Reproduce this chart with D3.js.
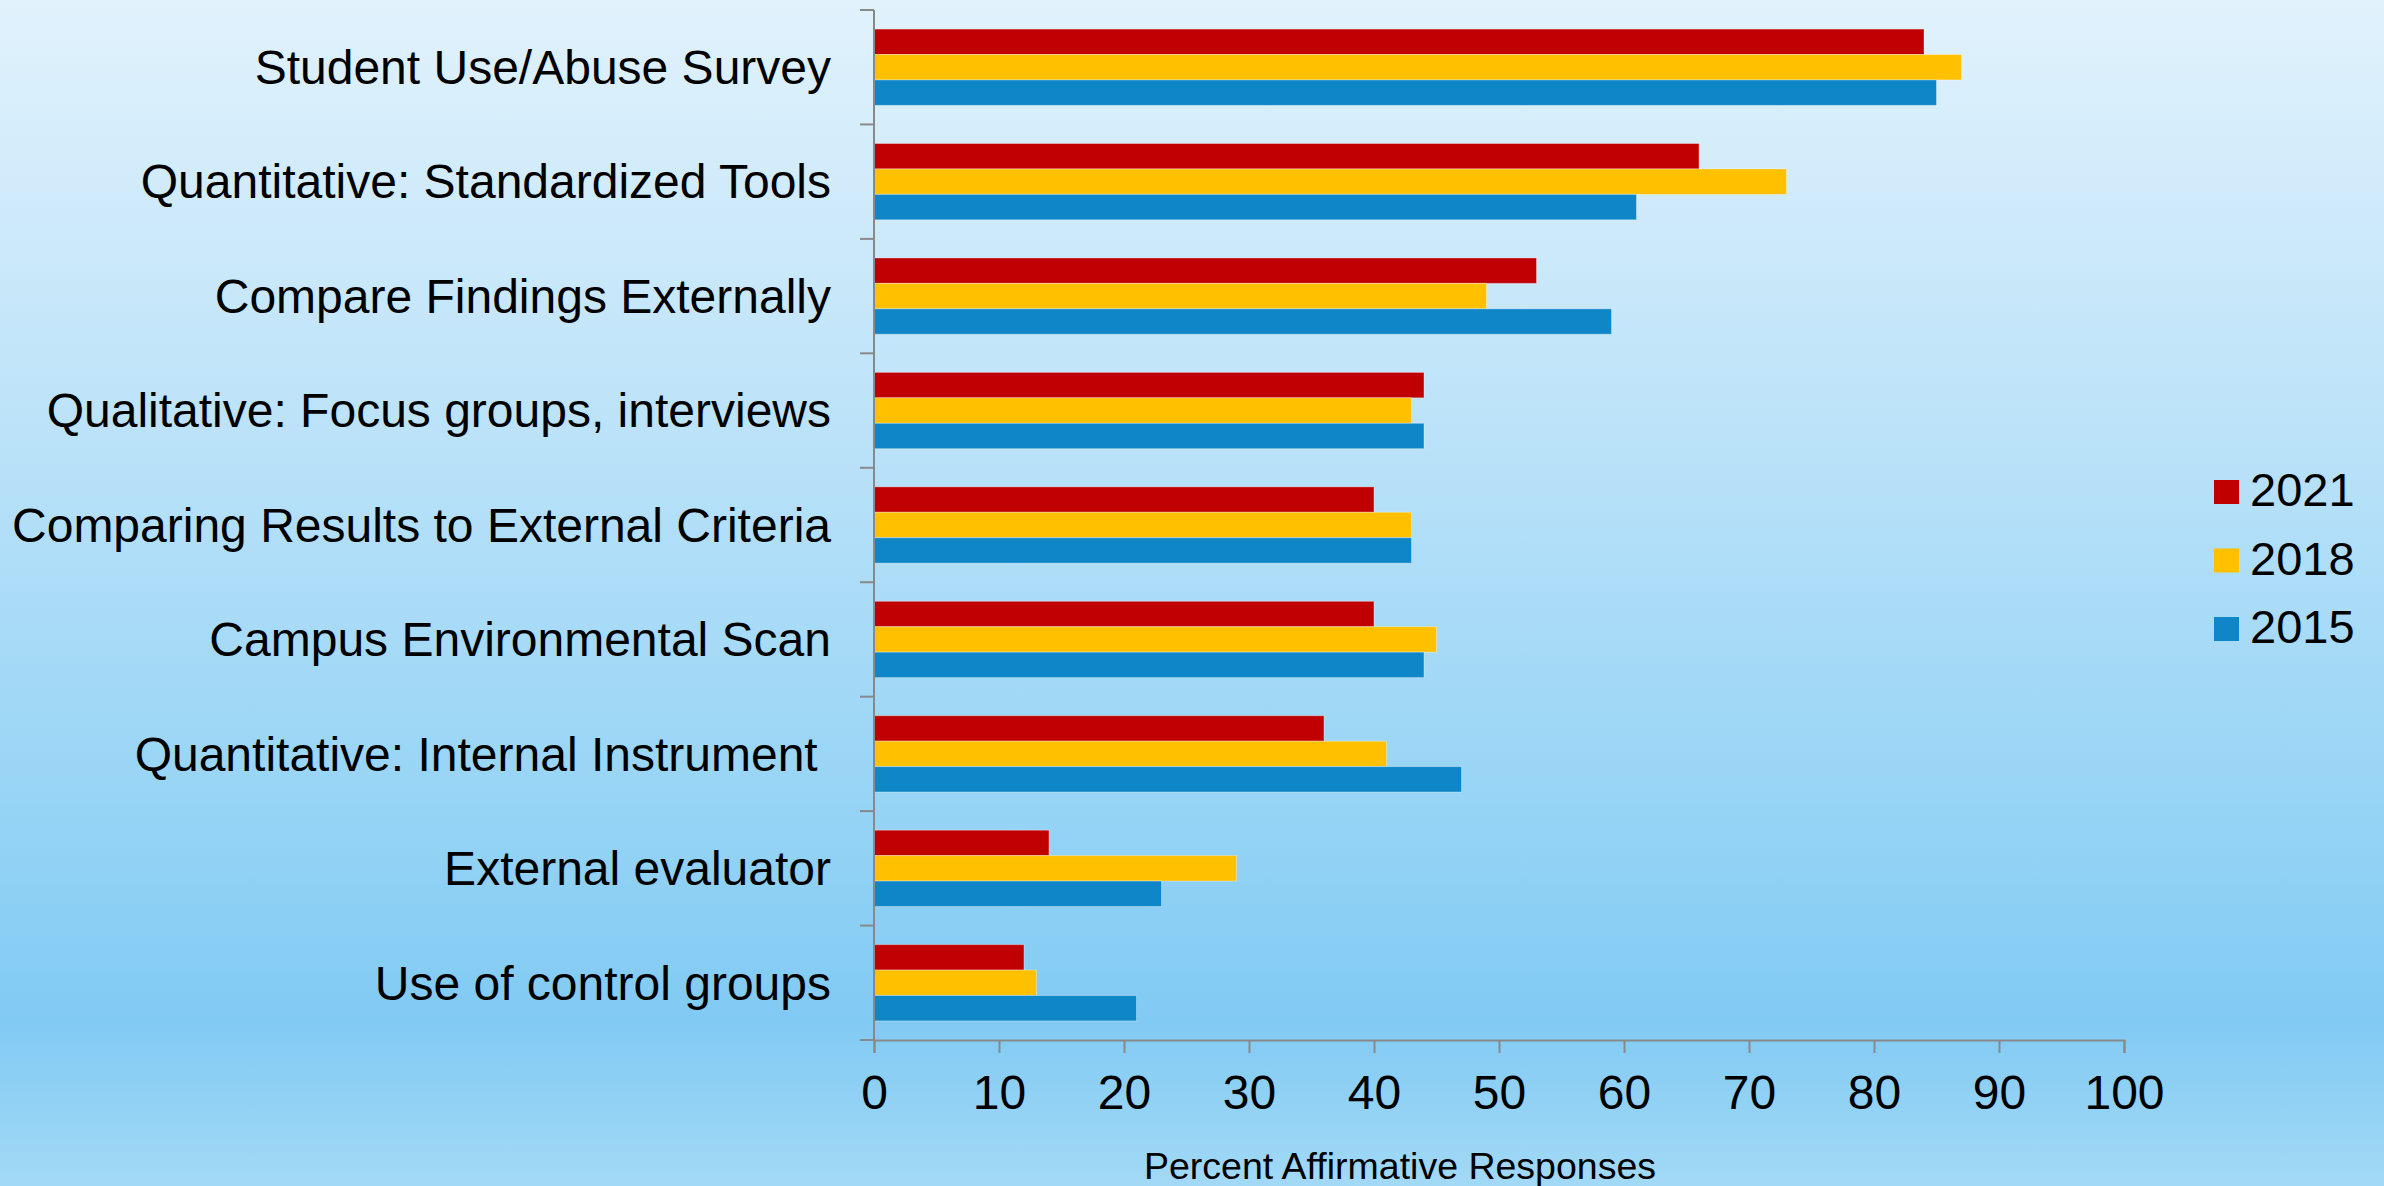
<!DOCTYPE html>
<html>
<head>
<meta charset="utf-8">
<script src="https://cdn.jsdelivr.net/npm/d3@7"></script>
<style>
  html, body { margin: 0; padding: 0; }
  body { width: 2384px; height: 1186px; overflow: hidden; }
  text { font-family: "Liberation Sans", Arial, sans-serif; fill: #000; }
</style>
</head>
<body>
<svg id="chart" width="2384" height="1186"></svg>
<script>
const categories = [
  "Student Use/Abuse Survey",
  "Quantitative: Standardized Tools",
  "Compare Findings Externally",
  "Qualitative: Focus groups, interviews",
  "Comparing Results to External Criteria",
  "Campus Environmental Scan",
  "Quantitative: Internal Instrument ",
  "External evaluator",
  "Use of control groups"
];
const seriesNames = ["2021", "2018", "2015"];
const values2021 = [84, 66, 53, 44, 40, 40, 36, 14, 12];
const values2018 = [87, 73, 49, 43, 43, 45, 41, 29, 13];
const values2015 = [85, 61, 59, 44, 43, 44, 47, 23, 21];
const seriesColors = ["#C00000", "#FFC000", "#0F86C8"];
const xTicks = [0, 10, 20, 30, 40, 50, 60, 70, 80, 90, 100];
const xTitle = "Percent Affirmative Responses";

const seriesValues = [values2021, values2018, values2015];
const svg = d3.select("#chart");

// background gradient
const defs = svg.append("defs");
const grad = defs.append("linearGradient").attr("id", "bg")
  .attr("x1", 0).attr("y1", 0).attr("x2", 0).attr("y2", 1);
[[0, "#E1F2FC"], [0.35, "#BDE3F9"], [0.7, "#94D3F5"], [0.86, "#81CAF3"], [1, "#A2D9F6"]]
  .forEach(([o, c]) => grad.append("stop").attr("offset", o).attr("stop-color", c));
svg.append("rect").attr("width", 2384).attr("height", 1186).attr("fill", "url(#bg)");

const plotLeft = 874, plotRight = 2124, plotTop = 10, plotBottom = 1040;
const x = d3.scaleLinear().domain([0, 100]).range([plotLeft, plotRight]);
const y = d3.scaleBand().domain(categories).range([plotTop, plotBottom])
  .paddingInner(1/3).paddingOuter(1/6);
const yInner = d3.scaleBand().domain(seriesNames).range([0, y.bandwidth()]);
const yTick = d3.scaleBand().domain(categories).range([plotTop, plotBottom]);

// bars
const groups = svg.append("g").selectAll("g").data(categories).join("g")
  .attr("transform", d => `translate(0,${y(d)})`);
groups.selectAll("rect")
  .data((d, i) => seriesNames.map((s, j) => ({ s, v: seriesValues[j][i], c: seriesColors[j] })))
  .join("rect")
  .attr("x", x(0))
  .attr("y", d => yInner(d.s))
  .attr("width", d => x(d.v) - x(0))
  .attr("height", yInner.bandwidth())
  .attr("fill", d => d.c)
  .attr("stroke", "rgba(255,255,255,0.35)")
  .attr("stroke-width", 1);

const axisColor = "#898989";
svg.append("line").attr("x1", plotLeft).attr("x2", plotLeft).attr("y1", plotTop).attr("y2", plotBottom)
  .attr("stroke", axisColor).attr("stroke-width", 2);
const yTickPos = categories.map(c => yTick(c)).concat([plotBottom]);
svg.append("g").selectAll("line").data(yTickPos).join("line")
  .attr("x1", plotLeft - 14).attr("x2", plotLeft).attr("y1", d => d).attr("y2", d => d)
  .attr("stroke", axisColor).attr("stroke-width", 2);

// category labels
svg.append("g").selectAll("text").data(categories).join("text")
  .attr("x", 831)
  .attr("y", d => yTick(d) + yTick.bandwidth() / 2)
  .attr("dy", "0.35em")
  .attr("text-anchor", "end")
  .attr("font-size", 48)
  .style("white-space", "pre")
  .text(d => d);

// x axis
const xAxis = d3.axisBottom(x).tickValues(xTicks).tickSize(13).tickPadding(22)
  .tickFormat(d3.format("d"));
const gx = svg.append("g").attr("transform", `translate(0,${plotBottom})`).call(xAxis);
gx.select(".domain").attr("stroke", axisColor).attr("stroke-width", 2);
gx.selectAll(".tick line").attr("stroke", axisColor).attr("stroke-width", 2);
gx.selectAll(".tick text").attr("font-size", 48)
  .attr("font-family", "Liberation Sans, Arial, sans-serif").attr("fill", "#000");

svg.append("text").attr("x", 1400).attr("y", 1179).attr("text-anchor", "middle")
  .attr("font-size", 37.5).text(xTitle);

// legend
const legend = svg.append("g").selectAll("g").data(seriesNames).join("g")
  .attr("transform", (d, i) => `translate(2214,${480 + i * 68.5})`);
legend.append("rect").attr("width", 25).attr("height", 24)
  .attr("fill", (d, i) => seriesColors[i]);
legend.append("text").attr("x", 36).attr("y", 26).attr("font-size", 47).text(d => d);
</script>
</body>
</html>
